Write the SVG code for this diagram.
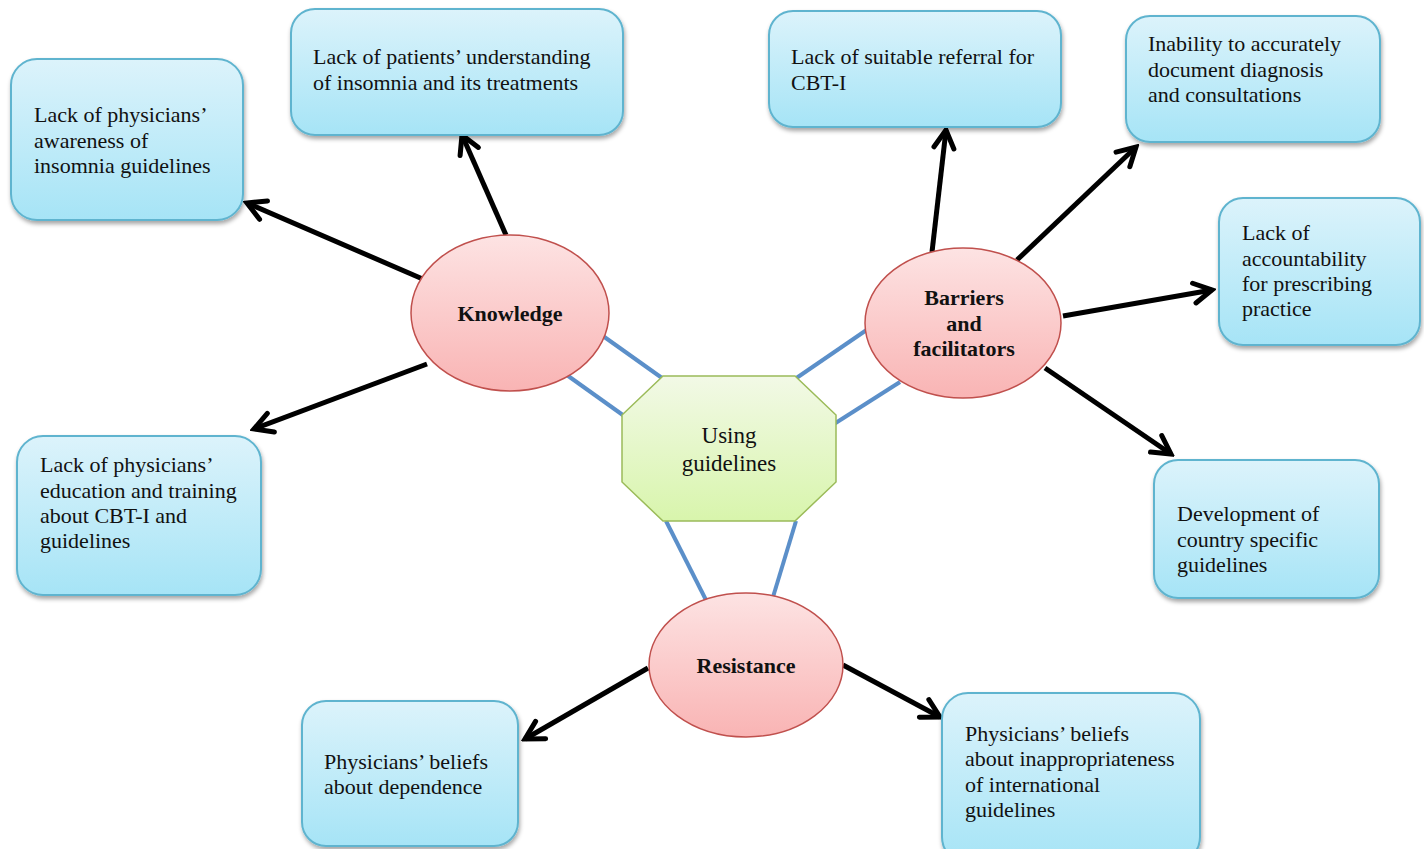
<svg xmlns="http://www.w3.org/2000/svg" width="1424" height="849" viewBox="0 0 1424 849">
<defs>
<linearGradient id="gBox" x1="0" y1="0" x2="0" y2="1">
<stop offset="0" stop-color="#dcf3fb"/>
<stop offset="1" stop-color="#a6e4f6"/>
</linearGradient>
<linearGradient id="gEll" x1="0" y1="0" x2="0" y2="1">
<stop offset="0" stop-color="#fde3e3"/>
<stop offset="1" stop-color="#f9b4b4"/>
</linearGradient>
<linearGradient id="gOct" x1="0" y1="0" x2="0" y2="1">
<stop offset="0" stop-color="#f2f9e6"/>
<stop offset="1" stop-color="#d8f5ac"/>
</linearGradient>
<filter id="sh" x="-10%" y="-10%" width="130%" height="130%">
<feDropShadow dx="1" dy="3" stdDeviation="2" flood-color="#000" flood-opacity="0.35"/>
</filter>
<marker id="arr" markerUnits="userSpaceOnUse" markerWidth="26" markerHeight="26" viewBox="0 0 26 26" refX="22" refY="13" orient="auto">
<path d="M4,3 L22,13 L4,23" fill="none" stroke="#000" stroke-width="5" stroke-linecap="round" stroke-linejoin="miter"/>
</marker>
</defs>
<style>
.box{fill:url(#gBox);stroke:#5fb4cf;stroke-width:2;filter:url(#sh)}
.ell{fill:url(#gEll);stroke:#c0504d;stroke-width:1.5}
.oct{fill:url(#gOct);stroke:#9bbb59;stroke-width:1.5}
.t{font-family:"Liberation Serif","Times New Roman",serif;font-size:22px;fill:#111}
.b{font-family:"Liberation Serif","Times New Roman",serif;font-size:22px;font-weight:bold;fill:#111;text-anchor:middle}
.c{font-family:"Liberation Serif","Times New Roman",serif;font-size:23px;fill:#111;text-anchor:middle}
.blue{stroke:#5b8fc9;stroke-width:4;fill:none}
.blk{stroke:#000;stroke-width:5;fill:none;marker-end:url(#arr)}
</style>
<rect width="1424" height="849" fill="#fff"/>

<g id="connectors">
<line class="blue" x1="603" y1="336" x2="662" y2="378"/>
<line class="blue" x1="564" y1="373" x2="627" y2="418"/>
<line class="blue" x1="795" y1="379" x2="868" y2="329"/>
<line class="blue" x1="834" y1="424" x2="900" y2="382"/>
<line class="blue" x1="666" y1="521" x2="706" y2="600"/>
<line class="blue" x1="796" y1="521" x2="773" y2="597"/>
<line class="blk" x1="425" y1="280" x2="247" y2="203"/>
<line class="blk" x1="506" y1="235" x2="462" y2="135"/>
<line class="blk" x1="427" y1="364" x2="254" y2="429"/>
<line class="blk" x1="932" y1="252" x2="946" y2="130"/>
<line class="blk" x1="1017" y1="260" x2="1136" y2="147"/>
<line class="blk" x1="1063" y1="316" x2="1212" y2="290"/>
<line class="blk" x1="1045" y1="368" x2="1171" y2="454"/>
<line class="blk" x1="648" y1="668" x2="525" y2="739"/>
<line class="blk" x1="843" y1="665" x2="940" y2="717"/>
</g>

<g id="boxA">
<rect class="box" x="11" y="59" width="232" height="161" rx="26"/>
<text class="t" x="34" y="122">Lack of physicians’</text>
<text class="t" x="34" y="148">awareness of</text>
<text class="t" x="34" y="173">insomnia guidelines</text>
</g>
<g id="boxB">
<rect class="box" x="291" y="9" width="332" height="126" rx="24"/>
<text class="t" x="313" y="64">Lack of patients’ understanding</text>
<text class="t" x="313" y="90">of insomnia and its treatments</text>
</g>
<g id="boxC">
<rect class="box" x="769" y="11" width="292" height="116" rx="24"/>
<text class="t" x="791" y="64">Lack of suitable referral for</text>
<text class="t" x="791" y="90">CBT-I</text>
</g>
<g id="boxD">
<rect class="box" x="1126" y="16" width="254" height="126" rx="24"/>
<text class="t" x="1148" y="51">Inability to accurately</text>
<text class="t" x="1148" y="77">document diagnosis</text>
<text class="t" x="1148" y="102">and consultations</text>
</g>
<g id="boxE">
<rect class="box" x="1219" y="198" width="201" height="147" rx="24"/>
<text class="t" x="1242" y="240">Lack of</text>
<text class="t" x="1242" y="266">accountability</text>
<text class="t" x="1242" y="291">for prescribing</text>
<text class="t" x="1242" y="316">practice</text>
</g>
<g id="boxF">
<rect class="box" x="1154" y="460" width="225" height="138" rx="24"/>
<text class="t" x="1177" y="521">Development of</text>
<text class="t" x="1177" y="547">country specific</text>
<text class="t" x="1177" y="572">guidelines</text>
</g>
<g id="boxG">
<rect class="box" x="17" y="436" width="244" height="159" rx="26"/>
<text class="t" x="40" y="472">Lack of physicians’</text>
<text class="t" x="40" y="498">education and training</text>
<text class="t" x="40" y="523">about CBT-I and</text>
<text class="t" x="40" y="548">guidelines</text>
</g>
<g id="boxH">
<rect class="box" x="302" y="701" width="216" height="145" rx="24"/>
<text class="t" x="324" y="769">Physicians’ beliefs</text>
<text class="t" x="324" y="794">about dependence</text>
</g>
<g id="boxI">
<rect class="box" x="942" y="693" width="258" height="170" rx="26"/>
<text class="t" x="965" y="741">Physicians’ beliefs</text>
<text class="t" x="965" y="766">about inappropriateness</text>
<text class="t" x="965" y="792">of international</text>
<text class="t" x="965" y="817">guidelines</text>
</g>

<g id="knowledge">
<ellipse class="ell" cx="510" cy="313" rx="99" ry="78"/>
<text class="b" x="510" y="321">Knowledge</text>
</g>
<g id="barriers">
<ellipse class="ell" cx="963" cy="323" rx="98" ry="75"/>
<text class="b" x="964" y="305">Barriers</text>
<text class="b" x="964" y="331">and</text>
<text class="b" x="964" y="356">facilitators</text>
</g>
<g id="resistance">
<ellipse class="ell" cx="746" cy="665" rx="97" ry="72"/>
<text class="b" x="746" y="673">Resistance</text>
</g>
<g id="using">
<polygon class="oct" points="663,376 795,376 836,415 836,482 795,521 663,521 622,482 622,415"/>
<text class="c" x="729" y="443">Using</text>
<text class="c" x="729" y="471">guidelines</text>
</g>
</svg>
